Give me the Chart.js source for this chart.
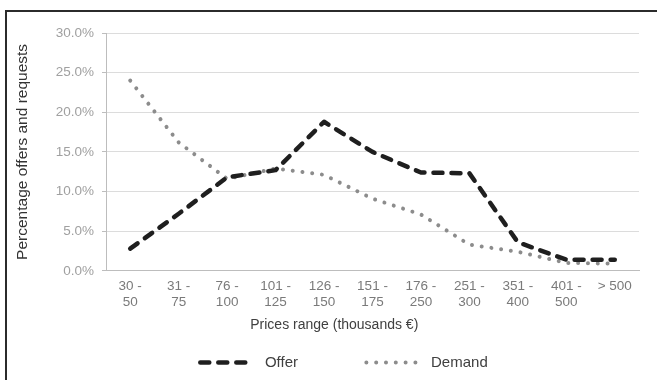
<!DOCTYPE html>
<html>
<head>
<meta charset="utf-8">
<script src="https://cdn.jsdelivr.net/npm/chart.js@4/dist/chart.umd.min.js"></script>
<style>
  html, body { margin: 0; padding: 0; background: #fff; }
  #wrap { position: relative; width: 657px; height: 380px; overflow: hidden; }
  #frame { position: absolute; left: 5px; top: 10px; width: 700px; height: 400px;
           border-left: 2px solid #2b2b2b; border-top: 2px solid #2b2b2b; pointer-events: none; }
  canvas { position: absolute; left: 0; top: 0; }
</style>
</head>
<body>
<div id="wrap">
  <canvas id="c" width="657" height="380"></canvas>
  <div id="frame"></div>
</div>
<script>
// Price bands (thousands €), two-line tick labels
const categories = [
  ['30 -', '50'], ['31 -', '75'], ['76 -', '100'], ['101 -', '125'], ['126 -', '150'],
  ['151 -', '175'], ['176 -', '250'], ['251 -', '300'], ['351 -', '400'], ['401 -', '500'], ['> 500']
];
// Share of listings (offer) and requests (demand) per band, in %
const offer  = [2.8, 7.2, 11.8, 12.7, 18.8, 15.0, 12.4, 12.3, 3.6, 1.4, 1.4];
const demand = [24.0, 16.2, 11.6, 12.9, 12.1, 9.1, 7.1, 3.3, 2.4, 1.0, 0.9];
// Y axis range and step
const yTicks = { min: 0, max: 30, step: 5 };

const FONT = 'Liberation Sans, Arial, sans-serif';

// Legend entries: keep the dash pattern of each series on its sample line,
// and leave a wide gap after the first entry
function legendLabels(chart) {
  const items = Chart.defaults.plugins.legend.labels.generateLabels(chart);
  items.forEach((it) => {
    const ds = chart.data.datasets[it.datasetIndex];
    it.strokeStyle = ds.borderColor;
    it.lineWidth = ds.borderWidth;
    it.lineDash = ds.borderDash;
    it.lineCap = ds.borderCapStyle;
    it.text = ' ' + ds.label + (it.datasetIndex === 0 ? ' '.repeat(14) : '');
  });
  return items;
}

new Chart(document.getElementById('c'), {
  type: 'line',
  data: {
    labels: categories,
    datasets: [
      {
        label: 'Offer',
        data: offer,
        borderColor: '#1f1f1f',
        backgroundColor: '#1f1f1f',
        borderWidth: 4.5,
        borderDash: [9, 9],
        borderCapStyle: 'round',
        borderJoinStyle: 'round',
        pointRadius: 0,
        tension: 0,
        fill: false
      },
      {
        label: 'Demand',
        data: demand,
        borderColor: '#8c8c8c',
        backgroundColor: '#8c8c8c',
        borderWidth: 4,
        borderDash: [0.01, 9.8],
        borderCapStyle: 'round',
        borderJoinStyle: 'round',
        pointRadius: 0,
        tension: 0,
        fill: false
      }
    ]
  },
  options: {
    responsive: false,
    animation: false,
    devicePixelRatio: 1,
    layout: { padding: { left: 49, right: 18, top: 33, bottom: 0 } },
    plugins: {
      tooltip: { enabled: false },
      title: {
        display: true,
        position: 'bottom',
        // trailing spaces pull the centred caption slightly left
        text: 'Prices range (thousands €)     ',
        color: '#404040',
        font: { family: FONT, size: 14, weight: 'normal', lineHeight: 1.2 },
        padding: { top: 0, bottom: 11 },
        weight: 500
      },
      legend: {
        display: true,
        position: 'bottom',
        weight: 3000,
        labels: {
          usePointStyle: true,
          pointStyle: 'line',
          boxWidth: 53,
          pointStyleWidth: 53,
          boxHeight: 15,
          padding: 10,
          color: '#404040',
          font: { family: FONT, size: 15 },
          generateLabels: legendLabels
        }
      }
    },
    scales: {
      x: {
        offset: true,
        grid: { display: true, drawOnChartArea: false, drawTicks: false, color: 'rgba(0,0,0,0)' },
        border: { display: true, color: '#bdbdbd', width: 1 },
        ticks: {
          color: '#7a7a7a',
          padding: 7,
          maxRotation: 0,
          autoSkip: false,
          font: { family: FONT, size: 13.5, lineHeight: 1.2 }
        }
      },
      y: {
        min: yTicks.min,
        max: yTicks.max,
        afterFit: (s) => { s.width = 57; },
        grid: { color: '#dcdcdc', lineWidth: 1, tickLength: 4, tickColor: '#bdbdbd' },
        border: { display: true, color: '#bdbdbd', width: 1 },
        ticks: {
          stepSize: yTicks.step,
          color: '#a0a0a0',
          padding: 8,
          font: { family: FONT, size: 13.5 },
          callback: (v) => v.toFixed(1) + '%'
        },
        title: {
          display: true,
          text: 'Percentage offers and requests',
          color: '#333333',
          font: { family: FONT, size: 15.5, lineHeight: 1.2 },
          padding: { top: -36, bottom: 0 }
        }
      }
    }
  }
});
</script>
</body>
</html>
